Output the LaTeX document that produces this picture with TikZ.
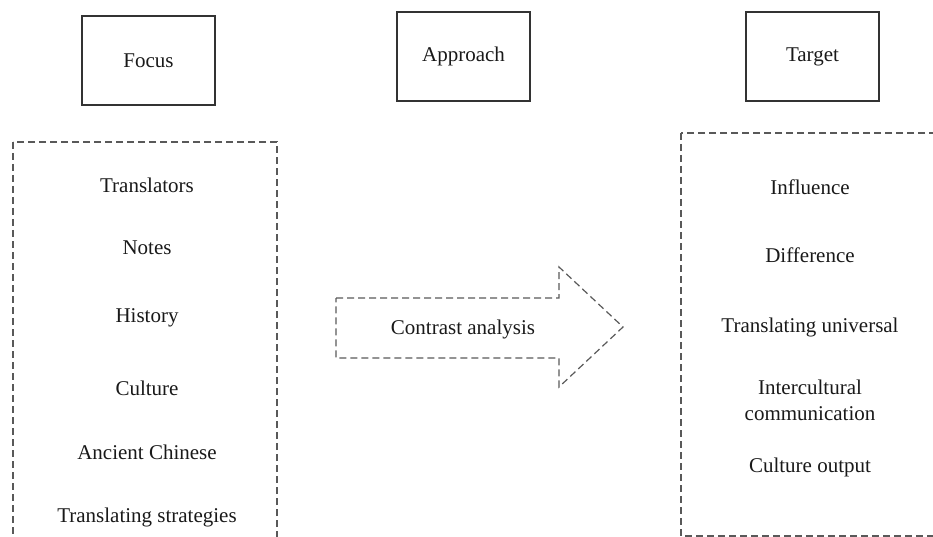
\documentclass[tikz,border=0pt]{standalone}
\usepackage{fontspec}
\setmainfont{Liberation Serif}
\begin{document}
\begin{tikzpicture}[x=1pt, y=-1pt,
    topbox/.style = {draw=black!80, line width=1.2pt, minimum width=133pt, minimum height=89pt, inner sep=0pt},
    dashbox/.style = {draw=black!65, line width=1.2pt, dash pattern=on 7pt off 4pt},
    item/.style = {font=\fontsize{21}{26}\selectfont, align=center, inner sep=0pt, text=black!90}]
    \clip (0,0) rectangle (933,537);

    % headings
    \node[topbox, item] (focus)    at (148.5,60.5) {Focus};
    \node[topbox, item] (approach) at (463.5,56.5) {Approach};
    \node[topbox, item] (target)   at (812.5,56.5) {Target};

    % dashed frames (cut by the page edge)
    \draw[dashbox] (13,142) rectangle (277,560);
    \draw[dashbox] (681,133) rectangle (950,536);

    % left column
    \node[item] (translators) at (147,185) {Translators};
    \node[item] (notes)       at (147,248) {Notes};
    \node[item] (history)     at (147,318) {History};
    \node[item] (culture)     at (147,388) {Culture};
    \node[item] (ancient)     at (147,452) {Ancient Chinese};
    \node[item] (strategies)  at (147,517) {Translating strategies};

    % arrow in the middle
    \draw[dashbox] (336,298) -- (559,298) -- (559,267) -- (623,327)
                   -- (559,387) -- (559,358) -- (336,358) -- cycle;
    \node[item] (contrast) at (463,329) {Contrast analysis};

    % right column
    \node[item] (influence)  at (810,187) {Influence};
    \node[item] (difference) at (810,255) {Difference};
    \node[item] (universal)  at (810,327) {Translating universal};
    \node[item] (intercult)  at (810,400) {Intercultural\\communication};
    \node[item] (output)     at (810,467) {Culture output};
\end{tikzpicture}
\end{document}
